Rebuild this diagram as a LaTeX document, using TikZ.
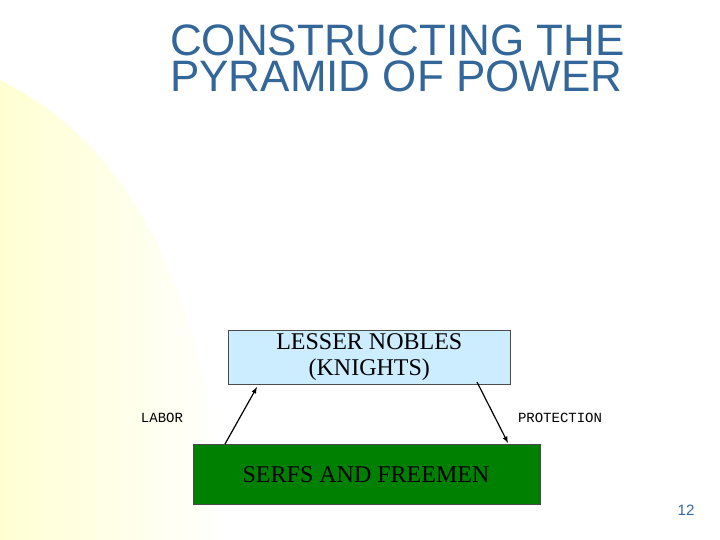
\documentclass[tikz,border=0pt]{standalone}
\usepackage{fontspec}
\setmainfont{Liberation Serif}
\newfontfamily\arialf{Liberation Sans}
\newfontfamily\courf{Liberation Mono}
\definecolor{titleblue}{RGB}{51,102,153}
\definecolor{lightbox}{RGB}{204,236,255}
\definecolor{darkgreen}{RGB}{0,128,0}
\definecolor{pale}{RGB}{255,255,210}
\begin{document}
\begin{tikzpicture}[x=1pt,y=-1pt,
  boxstyle/.style={draw=black!70,line width=0.6pt,anchor=north west,inner sep=0pt,align=center,font=\fontsize{24}{26}\selectfont},
  lab/.style={font=\courf\fontsize{14}{16}\selectfont},
  arr/.style={-latex,line width=1.2pt}]
\useasboundingbox (0,0) rectangle (720,540);
\fill[white] (0,0) rectangle (720,540);
\shade[left color=pale,right color=white] (0,80) .. controls (140,150) and (205,300) .. (230,540) -- (0,540) -- cycle;
\node[font=\arialf\fontsize{44}{36}\selectfont,text=titleblue,align=left,anchor=north west,inner sep=0pt] (title) at (170,25) {CONSTRUCTING THE\\PYRAMID OF POWER};
\node[boxstyle,fill=lightbox,minimum width=282pt,minimum height=54pt] (top) at (228,330) {LESSER NOBLES\\(KNIGHTS)};
\node[boxstyle,fill=darkgreen,minimum width=347pt,minimum height=60pt] (bot) at (193,444) {};
\node[font=\fontsize{24}{26}\selectfont] (bottxt) at (366,475) {SERFS AND FREEMEN};
\coordinate (a1) at (225,444); \coordinate (a2) at (257,387);
\coordinate (b1) at (477,382); \coordinate (b2) at (508,443);
\draw[arr] (a1) -- (a2);
\draw[arr] (b1) -- (b2);
\node[lab] (labor) at (162,418) {LABOR};
\node[lab] (prot) at (560,418) {PROTECTION};
\node[font=\arialf\fontsize{15}{17}\selectfont,text=titleblue] (num) at (686,510) {12};
\end{tikzpicture}
\end{document}
